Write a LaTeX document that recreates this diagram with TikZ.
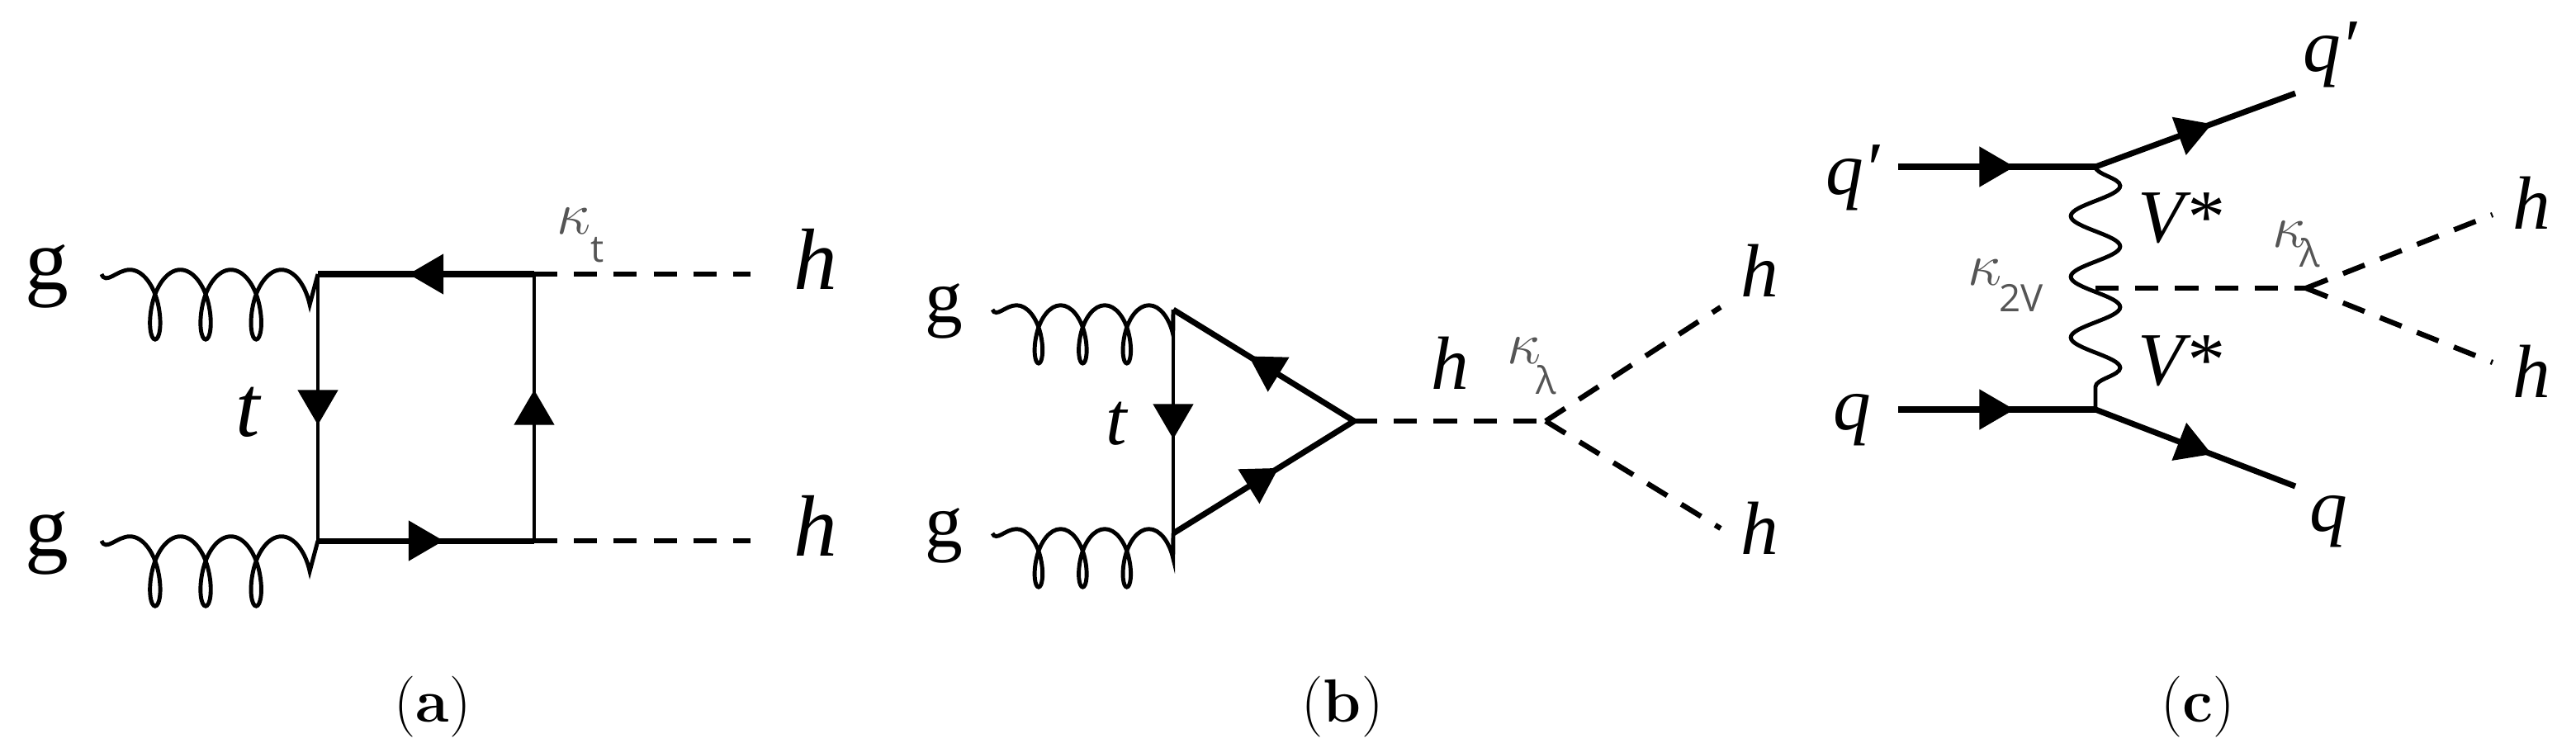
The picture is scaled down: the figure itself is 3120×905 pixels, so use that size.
\documentclass[tikz,border=0pt]{standalone}
\usepackage{fontspec}
\usepackage{tikz}
\usetikzlibrary{arrows.meta,decorations.pathmorphing,decorations.markings}
\newfontfamily\labfont{Liberation Serif}
\newfontfamily\subfont{Open Sans}
\definecolor{kgray}{HTML}{555555}

\begin{document}
\begin{tikzpicture}[x=0.01cm,y=-0.01cm,
    fermion/.style={line width=2pt,postaction={decorate},
      decoration={markings,mark=at position 0.5 with {\fill (6pt,0) -- (-6pt,7pt) -- (-6pt,-7pt) -- cycle;}}},
    tline/.style={fermion,line width=1.3pt},
    scalar/.style={line width=1.8pt,dash pattern=on 8pt off 5.7pt},
    gluon/.style={line width=1.4pt,decorate,
      decoration={coil,aspect=0.45,segment length=17.4pt,amplitude=12pt,raise=-10.5pt,pre length=0pt,post length=0pt}},
    gluonb/.style={gluon,decoration={coil,aspect=0.45,segment length=15.2pt,amplitude=10pt,raise=-8.5pt}},
    boson/.style={line width=1.4pt,decorate,decoration={snake,amplitude=8.5pt,segment length=20.9pt}},
    lbl/.style={inner sep=0pt,font=\labfont\fontsize{30}{36}\selectfont},
    lblb/.style={inner sep=0pt,font=\labfont\fontsize{26}{31}\selectfont},
    kap/.style={inner sep=0pt,text=kgray,font=\fontsize{22}{26}\selectfont},
    ksub/.style={inner sep=0pt,text=kgray,font=\subfont\fontsize{13}{16}\selectfont},
    captxt/.style={inner sep=0pt,font=\fontsize{21}{25}\selectfont}]
  \useasboundingbox (0,0) rectangle (3120,905);

  % (a) box
  \coordinate (a1) at (385,332);
  \coordinate (a2) at (647,332);
  \coordinate (a3) at (385,655);
  \coordinate (a4) at (647,655);
  \coordinate (gas1) at (123,332);
  \coordinate (gas2) at (123,655);
  \coordinate (has1) at (909,332);
  \coordinate (has2) at (909,655);
  \node[lbl] (ga1) at (57,335) {g};
  \node[lbl] (ga2) at (57,658) {g};
  \node[lbl] (ta) at (300,499) {\itshape t};
  \node[lbl] (ha1) at (988,314) {\itshape h};
  \node[lbl] (ha2) at (988,637) {\itshape h};
  \node[kap] (kta) at (695,268) {$\kappa$};
  \node[ksub] (ksa) at (724,303) {t};
  \node[captxt] (capa) at (524,856) {(\textbf{a})};

  \path (gas1) edge[gluon] (a1)
        (gas2) edge[gluon] (a3)
        (a2) edge[fermion] (a1) % top
        (a1) edge[tline] (a3)
        (a3) edge[fermion] (a4) % bottom
        (a4) edge[tline] (a2)
        (a2) edge[scalar] (has1)
        (a4) edge[scalar] (has2)
        ;

  % (b) triangle
  \coordinate (b1) at (1421,375);
  \coordinate (b2) at (1421,646);
  \coordinate (b3) at (1640,510);
  \coordinate (bk) at (1872,510);
  \coordinate (gbs1) at (1202,375);
  \coordinate (gbs2) at (1202,646);
  \coordinate (hbs1) at (2084,372);
  \coordinate (hbs2) at (2084,640);
  \node[lblb] (gb1) at (1143,377) {g};
  \node[lblb] (gb2) at (1143,649) {g};
  \node[lblb] (tb) at (1352,513) {\itshape t};
  \node[lblb] (hb) at (1756,440) {\itshape h};
  \node[lblb] (hb1) at (2131,328) {\itshape h};
  \node[lblb] (hb2) at (2131,640) {\itshape h};
  \node[kap] (kb) at (1846,425) {$\kappa$};
  \node[ksub] (ksb) at (1873,460) {λ};
  \node[captxt] (capb) at (1626,856) {(\textbf{b})};

  \path (gbs1) edge[gluonb] (b1)
        (gbs2) edge[gluonb] (b2)
        (b1) edge[tline] (b2)
        (b3) edge[fermion] (b1)
        (b2) edge[fermion] (b3)
        (b3) edge[scalar] (bk) % h
        (bk) edge[scalar] (hbs1)
             edge[scalar] (hbs2)
        ;

  % (c) VBF
  \coordinate (c1) at (2538,202);
  \coordinate (c2) at (2538,496);
  \coordinate (cm) at (2538,349);
  \coordinate (ck) at (2793,349);
  \coordinate (qcs1) at (2299,202);
  \coordinate (qcs2) at (2299,496);
  \coordinate (qce1) at (2780,113);
  \coordinate (qce2) at (2780,589);
  \coordinate (hcs1) at (3019,260);
  \coordinate (hcs2) at (3019,439);
  \node[lblb] (qc1) at (2244,215) {\itshape q′};
  \node[lblb] (qc2) at (2243,509) {\itshape q};
  \node[lblb] (qc3) at (2822,66) {\itshape q′};
  \node[lblb] (qc4) at (2820,632) {\itshape q};
  \node[lblb] (vc1) at (2640,264) {\itshape V*};
  \node[lblb] (vc2) at (2640,437) {\itshape V*};
  \node[lblb] (hc1) at (3066,246) {\itshape h};
  \node[lblb] (hc2) at (3066,450) {\itshape h};
  \node[kap] (kc1) at (2404,330) {$\kappa$};
  \node[ksub] (ksc1) at (2448,361) {2V};
  \node[kap] (kc2) at (2773,284) {$\kappa$};
  \node[ksub] (ksc2) at (2798,306) {λ};
  \node[captxt] (capc) at (2662,856) {(\textbf{c})};

  \path (qcs1) edge[fermion] (c1)
        (qcs2) edge[fermion] (c2)
        (c1) edge[fermion] (qce1)
        (c2) edge[fermion] (qce2)
        (c1) edge[boson] (c2) % V*
        (cm) edge[scalar] (ck)
        (ck) edge[scalar] (hcs1)
             edge[scalar] (hcs2)
        ;
\end{tikzpicture}
\end{document}
